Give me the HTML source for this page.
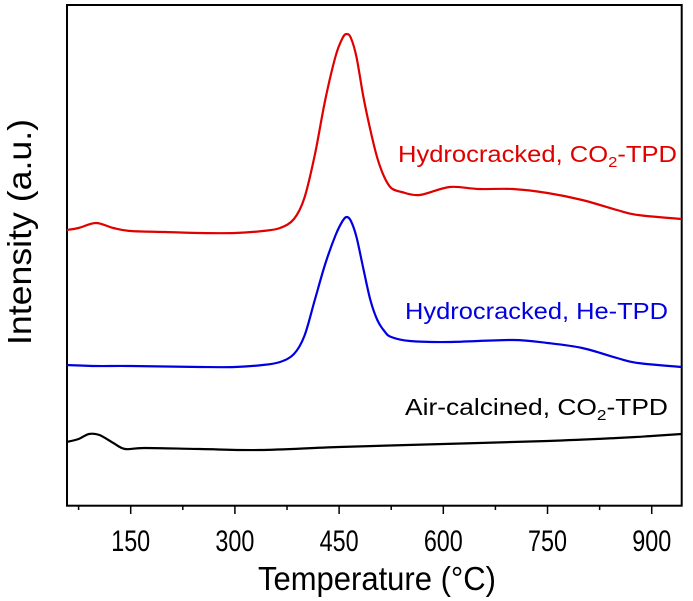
<!DOCTYPE html>
<html><head><meta charset="utf-8"><style>
html,body{margin:0;padding:0;background:#fff;}
svg{display:block;font-family:"Liberation Sans",Arial,sans-serif;}
</style></head><body>
<svg id="chart" width="693" height="601" viewBox="0 0 693 601">
<rect x="67" y="5" width="614.7" height="500.7" fill="none" stroke="#000" stroke-width="2"/>
<g id="xticks"></g>
<g id="series"></g>
<text x="398" y="162" font-size="23" fill="#e00000" textLength="279" lengthAdjust="spacingAndGlyphs">Hydrocracked, CO<tspan font-size="15" dy="5">2</tspan><tspan dy="-5">-TPD</tspan></text>
<text x="405" y="319" font-size="23" fill="#0000e0" textLength="263" lengthAdjust="spacingAndGlyphs">Hydrocracked, He-TPD</text>
<text x="405" y="415" font-size="23" fill="#000" textLength="263" lengthAdjust="spacingAndGlyphs">Air-calcined, CO<tspan font-size="15" dy="5">2</tspan><tspan dy="-5">-TPD</tspan></text>
<text x="377" y="590" font-size="33" text-anchor="middle" textLength="238" lengthAdjust="spacingAndGlyphs">Temperature (°C)</text>
<text transform="translate(31,232) rotate(-90)" font-size="33" text-anchor="middle" textLength="226" lengthAdjust="spacingAndGlyphs">Intensity (a.u.)</text>
</svg>
<script>
const xTickLabels = [150, 300, 450, 600, 750, 900];
const redT = [58,75,100,125,150,200,250,300,340,365,385,400,415,430,445,455,461,467,475,485,495,505,515,525,540,566,609,650,700,750,800,850,880,943];
const redI = [55.2,55.6,56.6,55.6,55,54.8,54.6,54.6,55,55.6,57.4,61.6,70.2,81.2,90,93.6,94.4,93.6,89.8,81.8,75.2,69.6,65.8,63.6,62.8,62.2,63.8,63.4,63.4,62.6,61.2,59.2,58.2,57.4];
const blueT = [58,100,150,250,300,340,365,385,400,415,430,445,455,461,467,475,485,495,505,515,525,552,609,700,750,800,850,880,943];
const blueI = [28.2,28,28,27.8,27.8,28.2,28.8,30.4,34,41.2,48.4,54.2,57,57.8,57,53.8,47.4,41.2,37.2,35,33.8,33,32.8,33.2,32.6,31.6,29.6,28.6,27.8];
const blackT = [58,75,90,105,125,142,170,250,336,450,600,750,850,900,943];
const blackI = [12.8,13.4,14.4,14.2,12.6,11.4,11.6,11.4,11.2,11.8,12.4,13,13.6,14,14.4];

const NS = "http://www.w3.org/2000/svg";
function xs(t){ return 130.7 + (t - 150) * 0.6947; }
function ys(v){ return 506 - v * 5; }

const xg = document.getElementById('xticks');
for (let t = 75; t <= 943; t += 75) {
  const major = (t % 150 === 0);
  const l = document.createElementNS(NS, 'line');
  l.setAttribute('x1', xs(t)); l.setAttribute('x2', xs(t));
  l.setAttribute('y1', 506); l.setAttribute('y2', major ? 514 : 510);
  l.setAttribute('stroke', '#000'); l.setAttribute('stroke-width', '1.5');
  
  
  xg.appendChild(l);
}
xTickLabels.forEach(v => {
  const tx = document.createElementNS(NS, 'text');
  tx.setAttribute('x', xs(v)); tx.setAttribute('y', 551);
  tx.setAttribute('font-size', '30'); tx.setAttribute('text-anchor', 'middle');
  tx.setAttribute('textLength', '39'); tx.setAttribute('lengthAdjust', 'spacingAndGlyphs');
  tx.textContent = v;
  
  
  xg.appendChild(tx);
});

function pathFor(T, I){
  const p = T.map((t,i)=>[xs(t), ys(I[i])]);
  let d = 'M' + p[0][0] + ',' + p[0][1];
  for (let i = 0; i < p.length - 1; i++) {
    const p0 = p[Math.max(0,i-1)], p1 = p[i], p2 = p[i+1], p3 = p[Math.min(p.length-1,i+2)];
    const c1x = p1[0] + (p2[0]-p0[0])/6, c1y = p1[1] + (p2[1]-p0[1])/6;
    const c2x = p2[0] - (p3[0]-p1[0])/6, c2y = p2[1] - (p3[1]-p1[1])/6;
    d += ' C' + c1x + ',' + c1y + ' ' + c2x + ',' + c2y + ' ' + p2[0] + ',' + p2[1];
  }
  return d;
}
const sg = document.getElementById('series');
[[redT, redI, '#e00000', 'series-hydrocracked-co2'],
 [blueT, blueI, '#0000e0', 'series-hydrocracked-he'],
 [blackT, blackI, '#000', 'series-air-calcined-co2']].forEach(s => {
  const path = document.createElementNS(NS, 'path');
  path.setAttribute('d', pathFor(s[0], s[1]));
  path.setAttribute('fill', 'none');
  path.setAttribute('stroke', s[2]);
  path.setAttribute('stroke-width', '2.2');
  path.setAttribute('stroke-linejoin', 'round');
  
  
  sg.appendChild(path);
});
</script>
</body></html>
